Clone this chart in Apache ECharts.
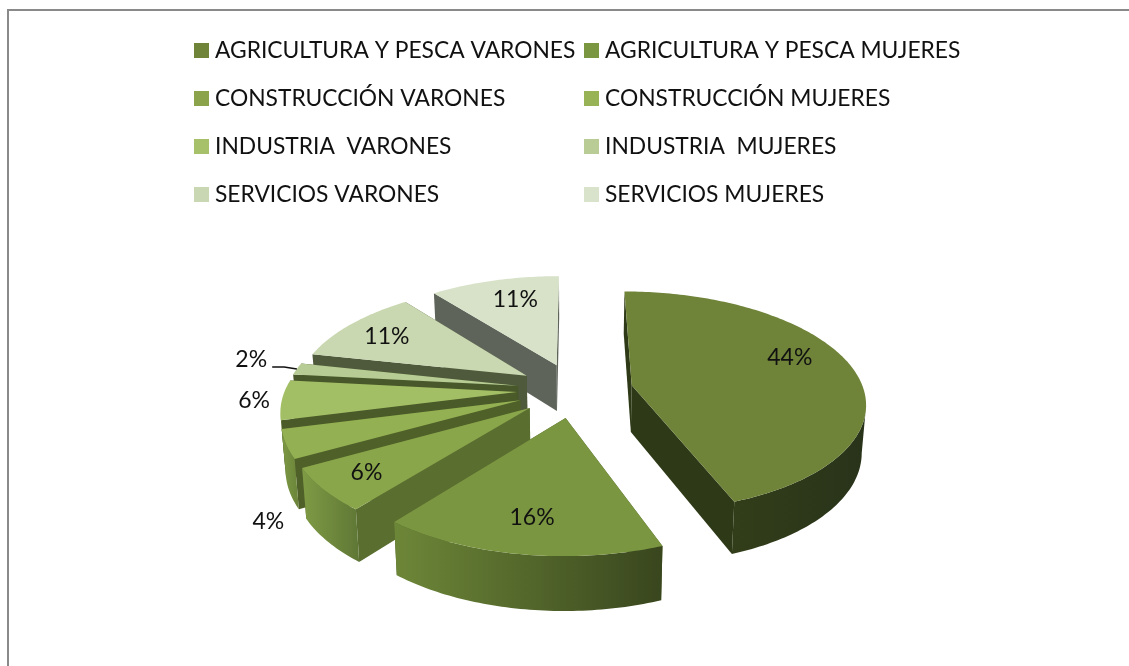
<!DOCTYPE html>
<html><head><meta charset="utf-8">
<style>html,body{margin:0;padding:0;background:#fff}#c{width:1129px;height:666px}</style>
<script src="https://cdn.jsdelivr.net/npm/echarts@6/dist/echarts.min.js"></script>
</head><body><div id="c"></div>
<script>
const categories = ['AGRICULTURA Y PESCA VARONES','AGRICULTURA Y PESCA MUJERES','CONSTRUCCIÓN VARONES','CONSTRUCCIÓN MUJERES','INDUSTRIA  VARONES','INDUSTRIA  MUJERES','SERVICIOS VARONES','SERVICIOS MUJERES'];
const shares = [44.3,16.4,6.2,4.1,5.7,1.7,11.0,10.6];
const topColors = ['#6f8339','#7b9641','#8aa64b','#93b052','#a3bf66','#b7cb94','#c9d8b0','#d8e2c9'];
const legendColors = ['#6f8339','#7b9641','#8ba44c','#97b356','#a7c06a','#b9cc96','#c9d8b2','#d9e2ca'];
const arcLeft = ['#323e19','#6d8738','#7f9b45','#7d9a44','#8aa853','#a0b96e','#b0c090','#c0c8b0'];
const arcRight = ['#28331a','#39461e','#5f7735','#6a8339','#7d9a47','#90a860','#a0b080','#b0b8a0'];
const wallColors = ['#2e3a17','#4a5c28','#5a6e30','#4f6029','#4a5a28','#48582a','#4f5a3c','#5e6459'];
const labelRadius = [0.77,0.76,0.81,1.29,1.117,1.233,0.77,0.736];
const labelTurn = [-10,0,0,-24.6,0,2.4,-1.3,2.4];

const cx=575, cy=390, ax=232, ay=108.8, persp=0.147, depth=47, explode=0.25, taper=0.985;
const rad=d=>d*Math.PI/180;
const total=shares.reduce((a,b)=>a+b,0);
function topPt(x,f){const s=1/(1-persp*f);return [cx+ax*x*s, cy+ay*f*s];}
function botPt(x,f){const s=1/(1-persp*f);return [cx+(ax*x*s)*taper, cy+ay*f*s+depth*(1+0.75*(s-1))];}

function sliceRender(i){
  return function(params,api){
    let before=0; for(let k=0;k<i;k++) before+=shares[k];
    const a0=before/total*360, value=api.value(0), a1=a0+value/total*360, mid=(a0+a1)/2;
    const ex=explode*Math.sin(rad(mid)), ey=-explode*Math.cos(rad(mid));
    const n=Math.max(6,Math.ceil(a1-a0)), pl=[];
    for(let k=0;k<=n;k++){const t=rad(a0+(a1-a0)*k/n);pl.push([ex+Math.sin(t),ey-Math.cos(t)]);}
    const T=pl.map(q=>topPt(q[0],q[1])), B=pl.map(q=>botPt(q[0],q[1]));
    const aT=topPt(ex,ey), aB=botPt(ex,ey);
    const kids=[];
    const wall={fill:wallColors[i]};
    kids.push({type:'polygon',shape:{points:[aT,T[0],B[0],aB]},style:wall});
    kids.push({type:'polygon',shape:{points:[aT,T[n],B[n],aB]},style:wall});
    // only the part of the rim that faces the viewer (screen x falling as the angle grows)
    const ft=[],fb=[];
    for(let k=0;k<n;k++){ if(T[k+1][0]<T[k][0]){ if(!ft.length){ft.push(T[k]);fb.push(B[k]);} ft.push(T[k+1]);fb.push(B[k+1]); } }
    if(ft.length){
      kids.push({type:'polygon',shape:{points:ft.concat(fb.slice().reverse())},style:{fill:{type:'linear',x:0,y:0,x2:1,y2:0,colorStops:[{offset:0,color:arcLeft[i]},{offset:1,color:arcRight[i]}]}}});
    }
    kids.push({type:'polygon',shape:{points:[aT].concat(T)},style:{fill:topColors[i]}});
    const la=rad(mid+labelTurn[i]), lp=topPt(ex+labelRadius[i]*Math.sin(la),ey-labelRadius[i]*Math.cos(la));
    kids.push({type:'text',z2:50,style:{text:Math.round(value/total*100)+'%',x:lp[0],y:lp[1],align:'center',verticalAlign:'middle',fill:'#111',font:'23px Lato'}});
    if(i===5){
      const e=topPt(ex+Math.sin(rad(mid)),ey-Math.cos(rad(mid)));
      kids.push({type:'polyline',z2:50,shape:{points:[[lp[0]+21,lp[1]+7],[lp[0]+33,lp[1]+7],e]},style:{stroke:'#111',lineWidth:1.5,fill:'none'}});
    }
    return {type:'group',children:kids};
  };
}

const series=categories.map((name,i)=>({
  name, type:'custom', coordinateSystem:'none', z:2+(i===0?7:i===1?8:(8-i)),
  itemStyle:{color:legendColors[i]}, data:[[shares[i]]], renderItem:sliceRender(i), silent:true
}));
const legendBase={orient:'vertical',padding:0,itemWidth:15,itemHeight:15,itemGap:25,icon:'rect',
  textStyle:{fontFamily:'Lato',fontSize:22.8,color:'#111',padding:[0,0,0,1]},selectedMode:false};
const chart=echarts.init(document.getElementById('c'),null,{renderer:'canvas'});
chart.setOption({
  animation:false, backgroundColor:'#fff',
  legend:[
    Object.assign({},legendBase,{left:194,top:39,data:categories.filter((c,i)=>i%2===0)}),
    Object.assign({},legendBase,{left:584,top:39,data:categories.filter((c,i)=>i%2===1)})
  ],
  graphic:[{type:'rect',silent:true,z:0,shape:{x:8,y:10,width:1130,height:720},style:{fill:'none',stroke:'#8a8a8a',lineWidth:2}}],
  series
});
</script></body></html>
